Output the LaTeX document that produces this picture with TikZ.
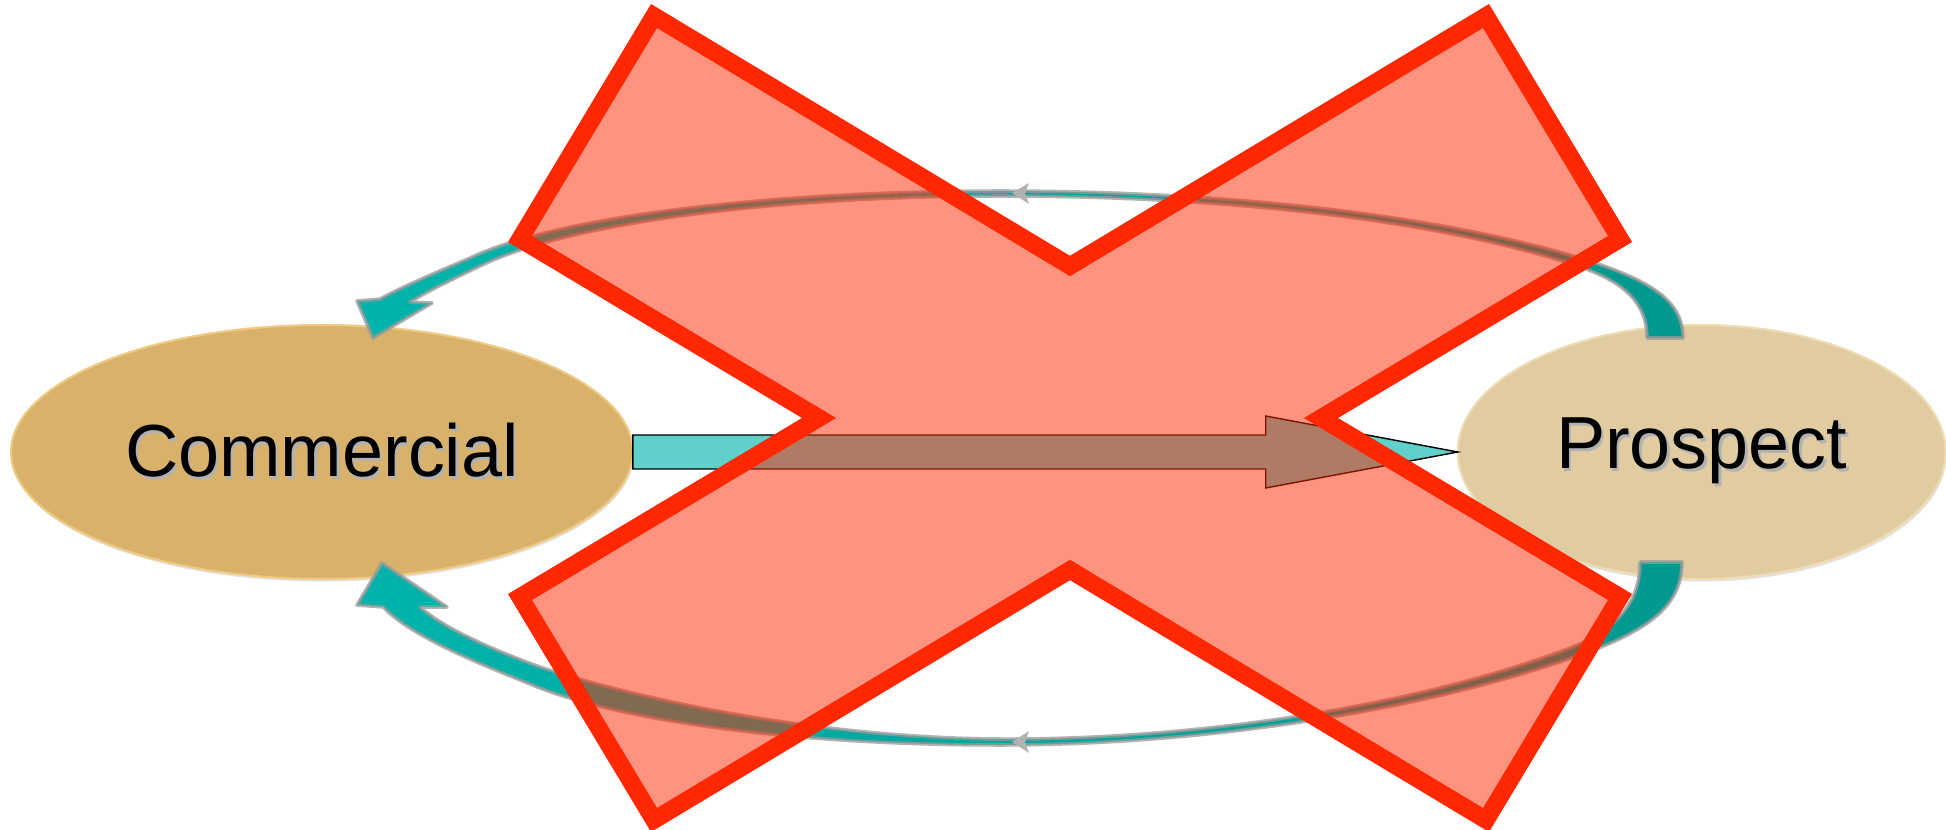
\documentclass[tikz,border=0pt]{standalone}
\usepackage{fontspec}
\setmainfont{Liberation Sans}
\usetikzlibrary{shapes,positioning,calc,shadows}

\definecolor{comfill}{RGB}{216,178,107}
\definecolor{comrim}{RGB}{238,202,132}
\definecolor{profill}{RGB}{225,204,161}
\definecolor{prorim}{RGB}{238,220,180}
\definecolor{ringteal}{RGB}{0,180,171}
\definecolor{ringdark}{RGB}{0,152,143}
\definecolor{shaftteal}{RGB}{95,208,202}
\definecolor{xred}{RGB}{255,40,0}

\newcommand{\softshadow}[1]{\makebox[0pt][l]{\kern1.4pt\raisebox{-1.6pt}{\textcolor{black!30}{#1}}}#1}

\begin{document}
\begin{tikzpicture}[
    x=0.02cm, y=-0.02cm,
    market/.style={ellipse,minimum width=#1,minimum height=5.08cm,inner sep=0pt,outer sep=0pt,font=\fontsize{42}{50}\selectfont,line width=1.2pt,drop shadow={shadow xshift=0.5pt,shadow yshift=-1.5pt,opacity=0.22}},
    ring/.style={left color=ringteal,right color=ringdark,draw=black!40,draw opacity=0.75,line width=2pt,line join=round},
    tiphead/.style={fill=black!30},
    flow/.style={fill=shaftteal,draw=black,line width=0.8pt,line join=miter},
    veto/.style={draw=xred,fill=xred,fill opacity=0.5,line width=0.35cm,line join=miter}
]
    \useasboundingbox (0,0) rectangle (1946,830);

    % Markets
    \node[market=12.44cm,fill=comfill,draw=comrim] (com) at (322,452) {\softshadow{Commercial}};
    \node[market=9.76cm,fill=profill,draw=prorim,right=16.5cm of com] (pro) {\softshadow{Prospect}};

    % Ring arrows
    \shadedraw[ring] (1683,338) .. controls (1683,300) and (1650,280) .. (1580,258)
        .. controls (1420,210) and (1200,191) .. (1000,191)
        .. controls (780,191) and (560,215) .. (470,258)
        .. controls (430,275) and (400,288) .. (380,299)
        -- (357,301) -- (373,338) -- (432,303) -- (410,302)
        .. controls (430,290) and (455,278) .. (480,266)
        .. controls (570,222) and (780,196) .. (1000,196)
        .. controls (1200,196) and (1420,215) .. (1575,265)
        .. controls (1620,280) and (1647,300) .. (1647,338) -- cycle;
    \shadedraw[ring] (1682,562) .. controls (1682,605) and (1650,630) .. (1580,655)
        .. controls (1420,712) and (1200,745) .. (1000,745)
        .. controls (780,745) and (610,718) .. (530,684)
        .. controls (470,660) and (410,635) .. (383,607)
        -- (357,605) -- (382,563) -- (447,607) -- (420,607)
        .. controls (440,625) and (480,645) .. (540,667)
        .. controls (640,700) and (820,738) .. (1000,739)
        .. controls (1200,740) and (1420,705) .. (1570,648)
        .. controls (1620,628) and (1640,600) .. (1640,562) -- cycle;
    \fill[tiphead] (1012,193) -- (1029,183) -- (1025,193) -- (1029,204) -- cycle;
    \fill[tiphead] (1012,742) -- (1029,731) -- (1025,742) -- (1029,753) -- cycle;

    % Main arrow
    \filldraw[flow] ($(com.east)+(0,-17)$) -- ($(pro.west)+(-192,-17)$) -- ($(pro.west)+(-192,-36)$) -- (pro.west)
        -- ($(pro.west)+(-192,36)$) -- ($(pro.west)+(-192,17)$) -- ($(com.east)+(0,17)$) -- cycle;

    % Veto cross
    \draw[veto] (654,16) -- (1070,266) -- (1486,16) -- (1620,239) -- (1321,418) -- (1620,597)
        -- (1486,820) -- (1070,570) -- (654,820) -- (520,597) -- (819,418) -- (520,239) -- cycle;
\end{tikzpicture}
\end{document}
